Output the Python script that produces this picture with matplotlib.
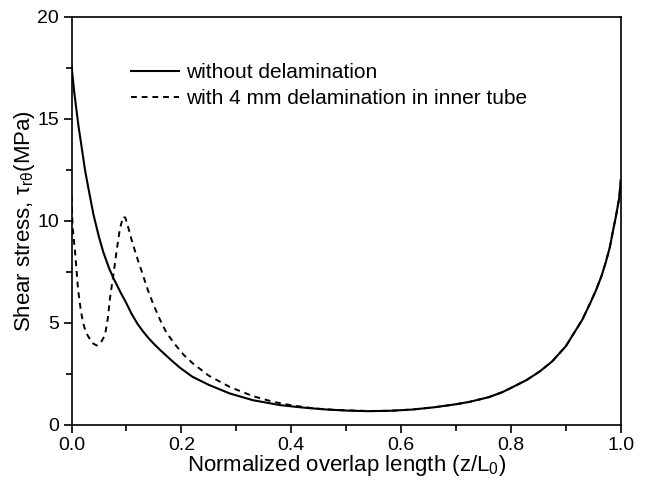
import matplotlib.pyplot as plt
from matplotlib.ticker import MultipleLocator

plt.rcParams['font.family'] = ['Liberation Sans', 'DejaVu Sans']
plt.rcParams['mathtext.fontset'] = 'custom'
plt.rcParams['mathtext.rm'] = 'Liberation Sans'
plt.rcParams['mathtext.default'] = 'regular'

# values
x_solid = [0.0, 0.005, 0.0124, 0.0185, 0.0245, 0.03, 0.04, 0.05, 0.058, 0.068,
           0.076, 0.09, 0.10, 0.109, 0.12, 0.13, 0.14, 0.15, 0.161, 0.18,
           0.197, 0.22, 0.25, 0.288, 0.33, 0.379, 0.42, 0.46, 0.50, 0.54,
           0.58, 0.62, 0.66, 0.70, 0.725, 0.76, 0.785, 0.80, 0.828, 0.852,
           0.875, 0.90, 0.915, 0.93, 0.945, 0.955, 0.965, 0.973, 0.98, 0.985,
           0.991, 0.997, 1.0]
y_solid = [17.6, 16.3, 14.7, 13.6, 12.5, 11.7, 10.3, 9.2, 8.45, 7.7,
           7.2, 6.45, 5.95, 5.45, 4.95, 4.58, 4.25, 3.96, 3.67, 3.2,
           2.8, 2.35, 1.95, 1.53, 1.2, 0.96, 0.84, 0.75, 0.69, 0.66,
           0.68, 0.74, 0.85, 1.0, 1.12, 1.35, 1.6, 1.8, 2.18, 2.6,
           3.1, 3.85, 4.5, 5.15, 6.0, 6.6, 7.3, 8.0, 8.7, 9.4,
           10.2, 11.1, 12.0]

x_dash = [0.0, 0.002, 0.0064, 0.012, 0.017, 0.021, 0.026, 0.031, 0.038, 0.046,
          0.053, 0.061, 0.066, 0.070, 0.076, 0.082, 0.088, 0.094, 0.098, 0.103,
          0.109, 0.118, 0.128, 0.139, 0.149, 0.161, 0.173, 0.191, 0.205, 0.221,
          0.25, 0.288, 0.33, 0.367, 0.40, 0.44, 0.48, 0.54, 0.58, 0.62,
          0.66, 0.70, 0.725, 0.76, 0.785, 0.80, 0.828, 0.852, 0.875, 0.90,
          0.915, 0.93, 0.945, 0.955, 0.965, 0.973, 0.98, 0.985, 0.991, 0.997,
          1.0]
y_dash = [11.2, 9.7, 8.5, 6.6, 5.6, 5.0, 4.55, 4.3, 4.0, 3.88,
          4.0, 4.4, 5.2, 6.2, 7.3, 8.5, 9.6, 10.2, 10.15, 9.7,
          9.1, 8.3, 7.5, 6.6, 5.9, 5.15, 4.5, 3.85, 3.4, 3.0,
          2.4, 1.85, 1.4, 1.12, 0.95, 0.8, 0.72, 0.67, 0.68, 0.74,
          0.85, 1.0, 1.12, 1.35, 1.6, 1.8, 2.18, 2.6, 3.1, 3.85,
          4.5, 5.15, 6.0, 6.6, 7.3, 8.0, 8.7, 9.4, 10.2, 11.1,
          12.0]

fig = plt.figure(figsize=(6.46, 4.82), dpi=100)
ax = fig.add_axes([0.1107, 0.119, 0.8503, 0.846])

ax.plot(x_solid, y_solid, color='black', lw=1.5, label='without delamination')
ax.plot(x_dash, y_dash, color='black', lw=1.4, linestyle=(0, (3, 2.5)),
        label='with 4 mm delamination in inner tube')

ax.set_xlim(0, 1)
ax.set_ylim(0, 20)
ax.xaxis.set_major_locator(MultipleLocator(0.2))
ax.xaxis.set_minor_locator(MultipleLocator(0.1))
ax.yaxis.set_major_locator(MultipleLocator(5))
ax.yaxis.set_minor_locator(MultipleLocator(2.5))
ax.xaxis.set_major_formatter(plt.FormatStrFormatter('%.1f'))
ax.tick_params(which='both', direction='out', top=False, right=False,
               labelsize=14, width=1.2)
ax.tick_params(which='major', length=6, pad=3)
ax.tick_params(which='minor', length=4)
for s in ax.spines.values():
    s.set_linewidth(1.2)

ax.set_xlabel('Normalized overlap length (z/L$_0$)', fontsize=16, labelpad=-1)
ax.set_ylabel(r'Shear stress, $\tau_{r\theta}$(MPa)', fontsize=16, labelpad=0)

ax.legend(loc='upper left', bbox_to_anchor=(0.075, 0.933), frameon=False,
          fontsize=15, handlelength=2.26, handletextpad=0.34, labelspacing=0.35)

fig.savefig('out.png', dpi=100)
